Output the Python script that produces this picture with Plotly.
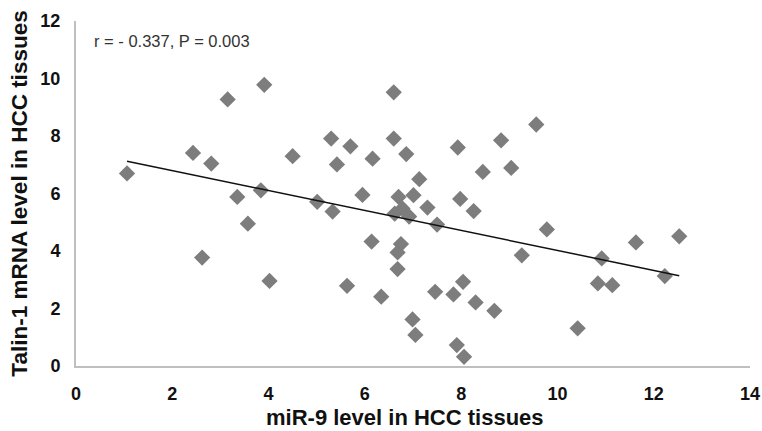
import numpy as np
import plotly.graph_objects as go

# miR-9 level (x) and Talin-1 mRNA level (y) in HCC tissues
mir9 = [1.06, 2.43, 2.81, 3.15, 3.91, 3.35, 3.84, 3.57, 2.62, 4.02,
        4.50, 5.30, 5.70, 5.42, 6.16, 5.95, 5.01, 5.33, 6.60, 6.60,
        6.86, 7.93, 7.13, 8.83, 9.56, 8.45, 9.04, 7.01, 6.70, 7.30,
        7.98, 8.26, 6.62, 6.78, 6.92, 7.50, 6.14, 6.75, 6.68, 6.68,
        5.63, 6.34, 7.46, 7.84, 8.04, 8.30, 6.99, 7.05, 7.91, 8.06,
        9.78, 9.26, 10.92, 11.63, 12.53, 12.23, 10.84, 11.14, 10.42, 8.69]
talin1 = [6.70, 7.41, 7.04, 9.27, 9.78, 5.88, 6.11, 4.95, 3.77, 2.96,
          7.30, 7.91, 7.64, 7.01, 7.21, 5.95, 5.71, 5.37, 9.52, 7.91,
          7.37, 7.60, 6.50, 7.85, 8.40, 6.75, 6.89, 5.94, 5.88, 5.51,
          5.81, 5.39, 5.30, 5.48, 5.20, 4.92, 4.33, 4.24, 3.95, 3.37,
          2.79, 2.41, 2.58, 2.49, 2.93, 2.21, 1.62, 1.08, 0.73, 0.32,
          4.75, 3.85, 3.74, 4.30, 4.51, 3.13, 2.87, 2.81, 1.31, 1.92]

# linear trend
trend_slope = -0.347
trend_intercept = 7.49

x_ticks = [0, 2, 4, 6, 8, 10, 12, 14]
y_ticks = [0, 2, 4, 6, 8, 10, 12]

stat_text = "r = - 0.337, P = 0.003"
x_title = "miR-9 level in HCC tissues"
y_title = "Talin-1 mRNA level in HCC tissues"

FONT = "Liberation Sans, Arial, sans-serif"

tx = np.array([min(mir9), max(mir9)])
ty = trend_slope * tx + trend_intercept

fig = go.Figure()
fig.add_trace(go.Scatter(
    x=mir9, y=talin1, mode="markers",
    marker=dict(symbol="diamond", size=12.5, color="#7d7d7d",
                line=dict(width=0)),
    showlegend=False, hoverinfo="skip"))
fig.add_trace(go.Scatter(
    x=tx, y=ty, mode="lines",
    line=dict(color="#111111", width=1.5),
    showlegend=False, hoverinfo="skip"))

fig.add_annotation(
    text=stat_text, xref="paper", yref="y", x=0.024, y=11.3,
    xanchor="left", yanchor="middle", showarrow=False,
    font=dict(family=FONT, size=16.5, color="#333333"))

# x-axis title placed as annotation to match the original's offset
fig.add_annotation(
    text=x_title, xref="paper", yref="paper", x=0.488, y=0, yshift=-51,
    xanchor="center", yanchor="middle", showarrow=False,
    font=dict(family=FONT, size=22, color="#111111", weight="bold"))

fig.update_layout(
    width=762, height=431,
    margin=dict(l=76, r=12, t=21, b=65),
    paper_bgcolor="white", plot_bgcolor="white",
    font=dict(family=FONT, color="#111111"),
    xaxis=dict(range=[0, 14], tickvals=x_ticks, showgrid=False,
               zeroline=False, showline=True, linecolor="#bfbfbf",
               linewidth=2, ticks="", ticklabelstandoff=10, automargin=False,
               tickfont=dict(family=FONT, size=18, color="#111111", weight="bold")),
    yaxis=dict(range=[0, 12], tickvals=y_ticks, showgrid=False,
               zeroline=False, showline=True, linecolor="#bfbfbf",
               linewidth=2, ticks="", ticklabelstandoff=10, automargin=False,
               tickfont=dict(family=FONT, size=18, color="#111111", weight="bold"),
               title=dict(text=y_title, standoff=6,
                          font=dict(family=FONT, size=22.5, color="#111111", weight="bold"))),
)

fig.write_html("out.html")
